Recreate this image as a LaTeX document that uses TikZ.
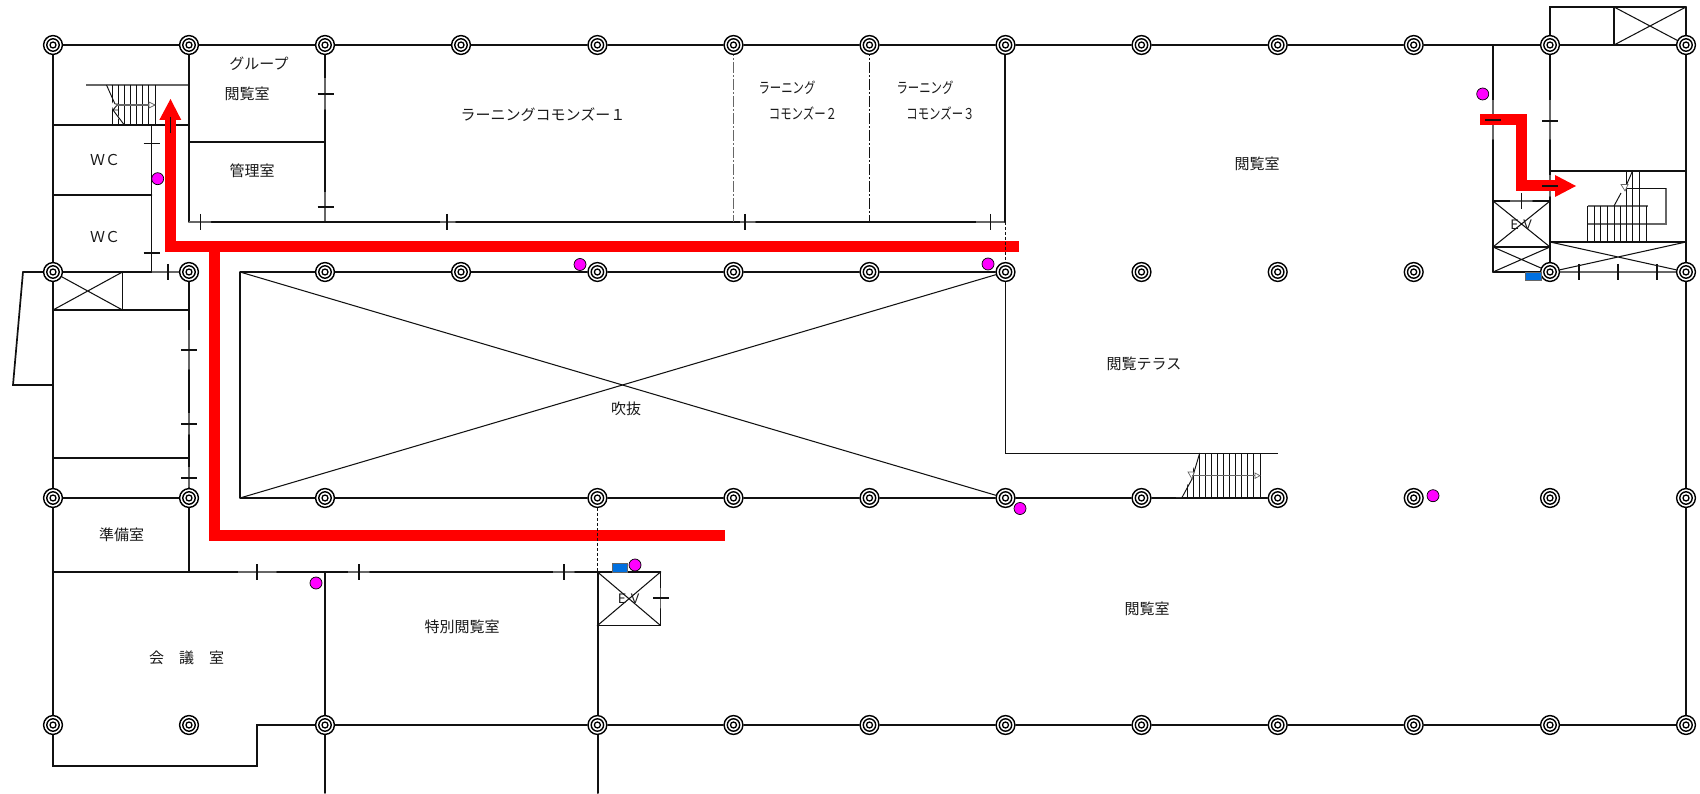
\documentclass[tikz,border=0pt]{standalone}
\usepackage{fontspec}
\usepackage{graphicx}
\setmainfont{Noto Sans CJK JP}
\usetikzlibrary{arrows.meta}
\newcommand{\labsize}[1]{\fontsize{#1}{#1}\selectfont}
\newcommand{\narrowtxt}[1]{\scalebox{0.76}[1]{#1}}
\definecolor{ink}{HTML}{111111}
\definecolor{soft}{HTML}{666666}
\definecolor{txt}{HTML}{1A1A1A}
\definecolor{route}{HTML}{FF0000}
\definecolor{dotm}{HTML}{FF00FF}
\definecolor{bluebox}{HTML}{0070E0}
\tikzset{
  wall/.style={draw=ink,line width=1.7pt,line cap=round},
  gapline/.style={draw=soft,line width=1.1pt},
  thinw/.style={draw=ink,line width=1.05pt},
  terr/.style={draw=ink,line width=0.85pt},
  tick/.style={draw=ink,line width=1.4pt},
  hatch/.style={draw=ink,line width=0.95pt},
  stairline/.style={draw=soft,line width=1.1pt},
  routeline/.style={draw=route,line width=11pt,line join=miter},
  routehead/.style={fill=route,draw=none},
  mag/.style={circle,fill=dotm,draw=black,line width=0.7pt,minimum size=12pt,inner sep=0pt},
  blue/.style={fill=bluebox,draw=soft,line width=0.7pt},
  lab/.style={text=txt,inner sep=0pt,font=\labsize{15}},
  dashw/.style={draw=ink,line width=1pt,dash pattern=on 3pt off 2pt},
  dashdot/.style={draw=ink,line width=1.1pt,dash pattern=on 11pt off 2pt on 2pt off 2pt},
}
\newcommand{\column}[2]{%
  \fill[white] (#1,#2) circle[radius=10pt];
  \draw[black,line width=1.4pt] (#1,#2) circle[radius=9.4pt];
  \draw[black,line width=1.4pt] (#1,#2) circle[radius=6.2pt];
  \draw[black,line width=1.3pt] (#1,#2) circle[radius=3pt];
}
\begin{document}
\begin{tikzpicture}[x=1pt,y=-1pt]
\path[use as bounding box] (0,0) rectangle (1700,794);
\fill[white] (0,0) rectangle (1700,794);
% --- outer walls and rows
\draw[wall] (53,45) -- (1686,45);
\draw[wall] (53,45) -- (53,766) -- (257,766) -- (257,725) -- (1686,725);
\draw[wall] (325,572) -- (325,793);
\draw[wall,line width=2pt] (597.7,572) -- (597.7,793);
\draw[wall] (1686,7) -- (1686,725);
% row 2 and 3
\draw[wall] (23,272) -- (151.5,272);
\draw[gapline] (151.5,272) -- (189,272);
\draw[wall] (23,272) -- (13,385) -- (53,385);
\draw[thinw] (240,272) -- (1005,272);
\draw[wall] (53,498) -- (189,498);
\draw[thinw] (240,498) -- (1270,498);
\draw[wall] (240,272) -- (240,498);
% void cross
\draw[thinw] (240,272) -- (1005,498);
\draw[thinw] (240,498) -- (1005,272);
% left block
\draw[wall] (53,125) -- (165,125);
\draw[gapline] (165,125) -- (176,125);
\draw[wall] (176,125) -- (189,125);
\draw[wall] (151.5,125) -- (151.5,272);
\draw[wall] (53,195) -- (151.5,195);
\draw[gapline] (86,85) -- (189,85);
\draw[wall] (189,45) -- (189,222);
\draw[wall] (189,142) -- (325,142);
\draw[wall] (325,45) -- (325,78);
\draw[gapline] (325,78) -- (325,110);
\draw[wall] (325,110) -- (325,192);
\draw[gapline] (325,192) -- (325,222);
% left upper stair
\foreach \sx in {112,118,124,130,136,142,148,155} {\draw[hatch] (\sx,85) -- (\sx,125);}
\fill[white] (107,86) -- (111.2,86) -- (111.2,100) -- (122,124) -- (113,110) -- cycle;
\draw[hatch] (106.5,85) -- (115,104) (113,110) -- (124.3,125);
\draw[hatch] (115,104) -- (118,104) -- (113,110) -- (118,110);
\draw[stairline] (116,105) -- (155,105);
\draw[stairline,fill=white,line width=0.7pt] (149,102) -- (155,105) -- (149,108) -- cycle;
% EV box, left
\draw[wall] (122.5,272) -- (122.5,310);
\draw[wall] (53,310) -- (189,310);
\draw[thinw] (53,272) -- (122.5,310) (53,310) -- (122.5,272);
% column c1 lower
\draw[wall] (189,272) -- (189,330);
\draw[gapline] (189,330) -- (189,370);
\draw[wall] (189,370) -- (189,413);
\draw[gapline] (189,413) -- (189,435);
\draw[wall] (189,435) -- (189,467);
\draw[gapline] (189,467) -- (189,488);
\draw[wall] (189,488) -- (189,572);
\draw[wall] (53,458) -- (189,458);
% y=222
\draw[gapline] (189,222) -- (211.5,222);
\draw[wall] (211.5,222) -- (440,222);
\draw[gapline] (440,222) -- (456,222);
\draw[wall] (456,222) -- (740,222);
\draw[gapline] (740,222) -- (756,222);
\draw[wall] (756,222) -- (976,222);
\draw[gapline] (976,222) -- (1005,222);
\draw[wall] (1005,45) -- (1005,222);
\draw[terr] (1005.4,272) -- (1005.4,453.4) -- (1278,453.4);
% y=572
\draw[wall] (53,572) -- (238,572);
\draw[gapline] (238,572) -- (277,572);
\draw[wall] (277,572) -- (348,572);
\draw[gapline] (348,572) -- (370,572);
\draw[wall] (370,572) -- (553,572);
\draw[gapline] (553,572) -- (575,572);
\draw[wall] (575,572) -- (660.5,572);
% EV centre
\draw[wall] (660.5,572) -- (660.5,588);
\draw[gapline] (660.5,588) -- (660.5,609);
\draw[wall] (660.5,609) -- (660.5,625.5) -- (597.5,625.5);
\draw[thinw] (597.5,572) -- (660.5,625.5) (597.5,625.5) -- (660.5,572);
% centre-right stair
\foreach \sx in {1187.7,1193.7,1199.7,1205.7,1211.7,1217.7,1223.7,1229.7,1235.7,1241.7,1247.7,1253.7,1260} {\draw[hatch] (\sx,453) -- (\sx,498);}
\fill[white] (1176,454) -- (1198.5,454) -- (1183,497) -- (1176,497) -- cycle;
\fill[white] (1182,454) rectangle (1186,470);
\draw[hatch] (1199.7,453) -- (1192,479);
\draw[hatch] (1192,479) -- (1181.7,498);
\draw[stairline,fill=white,line width=0.7pt] (1188,472) -- (1194,472) -- (1192,479) -- cycle;
\draw[stairline] (1192,475.7) -- (1260,475.7);
\draw[stairline,fill=white,line width=0.7pt] (1255,473) -- (1260,475.7) -- (1255,478.4) -- cycle;
% right block
\draw[wall] (1550,45) -- (1550,7) -- (1686,7);
\draw[wall] (1614,7) -- (1614,45);
\draw[thinw] (1614,7) -- (1686,45) (1614,45) -- (1686,7);
\draw[wall] (1493,45) -- (1493,100);
\draw[gapline] (1493,100) -- (1493,140);
\draw[wall] (1493,140) -- (1493,272);
\draw[wall] (1550,45) -- (1550,100);
\draw[gapline] (1550,100) -- (1550,140);
\draw[wall] (1550,140) -- (1550,175);
\draw[gapline] (1550,175) -- (1550,197);
\draw[wall] (1550,197) -- (1550,272);
\draw[wall] (1550,171) -- (1686,171);
\draw[wall] (1550,242) -- (1686,242);
\draw[wall] (1493,272) -- (1550,272);
\draw[gapline] (1550,272) -- (1686,272);
\draw[thinw] (1550,242) -- (1686,272) (1550,272) -- (1686,242);
\draw[wall] (1493,201) -- (1510,201);
\draw[gapline] (1510,201) -- (1533,201);
\draw[wall] (1533,201) -- (1550,201);
\draw[wall] (1493,247) -- (1550,247);
\draw[thinw] (1493,201) -- (1550,247) (1493,247) -- (1550,201);
\draw[thinw] (1493,247) -- (1550,272) (1493,272) -- (1550,247);
% right stair
\draw[stairline] (1587.5,206) -- (1648,206);
\draw[stairline] (1666,188.5) -- (1666,224) -- (1587.5,224);
\draw[thinw] (1626,188.5) -- (1666,188.5);
\foreach \sx in {1587.5,1594,1600.5,1607.5,1614,1620,1646} {\draw[hatch] (\sx,206) -- (\sx,242);}
\foreach \sx in {1626.5,1632.5,1639} {\draw[hatch] (\sx,171) -- (\sx,242);}
\fill[white] (1615,172) -- (1625.5,172) -- (1625.5,205) -- (1615,205) -- cycle;
\draw[hatch] (1632.5,171) -- (1626,186) (1621,193) -- (1614,206);
\draw[stairline,fill=white,line width=0.7pt] (1621,184.5) -- (1628,184.5) -- (1625,191) -- cycle;
% red routes
\draw[routeline] (1019,246.8) -- (170.5,246.8) -- (170.5,119);
\fill[routehead] (170.5,99) -- (181.3,120) -- (159.3,120) -- cycle;
\draw[routeline] (214.5,246.8) -- (214.5,535) -- (725,535);
\draw[routeline] (1480,119.8) -- (1521.7,119.8) -- (1521.7,186) -- (1556,186);
\fill[routehead] (1576,186) -- (1555,175) -- (1555,197) -- cycle;
% dashed and dash-dot partitions
\draw[dashw] (1005,222) -- (1005,272);
\draw[dashw] (597.5,498) -- (597.5,572);
\draw[dashdot,draw=soft] (733.5,45) -- (733.5,222);
\draw[dashdot] (869.5,45) -- (869.5,222);
% door ticks
\foreach \tx/\ty in {143.5/143.7,143.5/253,317.5/94,317.5/207,181/350,181/424,181/478,1485/120,1542/121,1542/186,653/598}
  {\draw[tick] (\tx,\ty) -- ++(16,0);}
\foreach \tx/\ty in {168/264,200.5/214,447/214,745/214,990.7/214,257/564,359/564,564/564,1579/264,1618/264,1657/264,1521.5/193,170.5/117}
  {\draw[tick] (\tx,\ty) -- ++(0,16);}
% columns
\foreach \cx in {53,189,325,461,597.4,733.5,869.5,1005.5,1141.5,1277.7,1413.7,1550,1686} {\column{\cx}{45}}
\foreach \cx in {53,189,325,461,597.4,733.5,869.5,1005.5,1141.5,1277.7,1413.7,1550,1686} {\column{\cx}{272}}
\foreach \cx in {53,189,325,597.4,733.5,869.5,1005.5,1141.5,1277.7,1413.7,1550,1686} {\column{\cx}{498}}
\foreach \cx in {53,189,325,597.4,733.5,869.5,1005.5,1141.5,1277.7,1413.7,1550,1686} {\column{\cx}{725}}
% blue boxes and magenta dots
\draw[blue] (612.5,563) rectangle (627.5,572);
\draw[blue] (1525.5,272) rectangle (1541,280);
\node[mag] (m1) at (157.7,178.7) {};
\node[mag] (m2) at (316,583) {};
\node[mag] (m3) at (580,264.5) {};
\node[mag] (m4) at (988,264) {};
\node[mag] (m5) at (1020,508.5) {};
\node[mag] (m6) at (1433,495.7) {};
\node[mag] (m7) at (1482.7,94) {};
\node[mag] (m8) at (635,565) {};
% labels
\node[lab] (t1) at (259,64) {グループ};
\node[lab] (t2) at (247,94) {閲覧室};
\node[lab] (t3) at (252,171) {管理室};
\node[lab] (t4) at (105,160) {ＷＣ};
\node[lab] (t5) at (105,237) {ＷＣ};
\node[lab] (t6) at (121.6,535) {準備室};
\node[lab] (t7) at (186.5,657.7) {会　議　室};
\node[lab] (t8) at (543,115) {ラーニングコモンズー１};
\node[lab] (t9) at (787,87.3) {\narrowtxt{ラーニング}};
\node[lab] (t10) at (803,113) {\narrowtxt{コモンズー２}};
\node[lab] (t11) at (925,87.3) {\narrowtxt{ラーニング}};
\node[lab] (t12) at (940.5,113) {\narrowtxt{コモンズー３}};
\node[lab] (t13) at (1257,163.7) {閲覧室};
\node[lab] (t14) at (1144,364) {閲覧テラス};
\node[lab] (t15) at (626,409) {吹抜};
\node[lab] (t16) at (1147,609) {閲覧室};
\node[lab] (t17) at (462,627) {特別閲覧室};
\node[lab,font=\labsize{13}] (t18) at (628.5,599) {ＥＶ};
\node[lab,font=\labsize{13}] (t19) at (1521,225) {ＥＶ};
\end{tikzpicture}
\end{document}
